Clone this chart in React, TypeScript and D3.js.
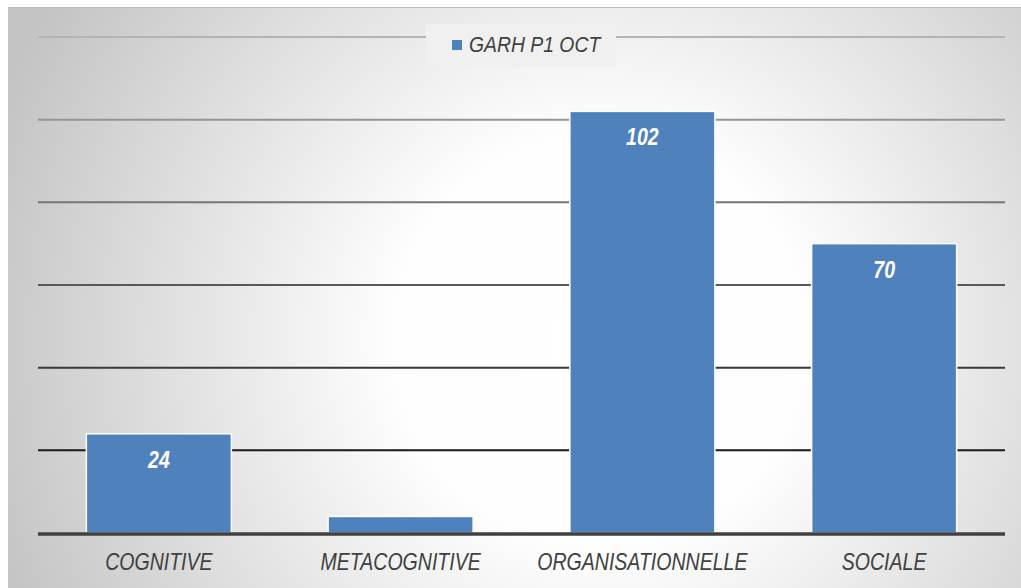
import React, { useRef, useEffect } from 'react';
import * as d3 from 'd3';

const categories = ['COGNITIVE', 'METACOGNITIVE', 'ORGANISATIONNELLE', 'SOCIALE'];
const values = [24, 4, 102, 70];
const valueLabels = ['24', '', '102', '70'];
const gridTicks = [0, 20, 40, 60, 80, 100, 120];
const seriesName = 'GARH P1 OCT';

const App = () => {
  const svgRef = useRef<SVGSVGElement>(null);

  useEffect(() => {
    const svg = d3.select(svgRef.current);
    svg.selectAll('*').remove();

    const width = 1021;
    const height = 588;
    const plot = { left: 38, right: 1005, top: 37, bottom: 533 };
    const font = '"Liberation Sans", Arial, sans-serif';
    const narrow = 0.85; // no narrow font installed, squeeze horizontally

    // background radial gradient
    const defs = svg.append('defs');
    const rg = defs
      .append('radialGradient')
      .attr('id', 'bg')
      .attr('gradientUnits', 'userSpaceOnUse')
      .attr('cx', 600)
      .attr('cy', 340)
      .attr('r', 640);
    rg.append('stop').attr('offset', 0).attr('stop-color', '#ffffff');
    rg.append('stop').attr('offset', 0.32).attr('stop-color', '#fefefe');
    rg.append('stop').attr('offset', 1).attr('stop-color', '#c4c4c4');

    svg
      .append('rect')
      .attr('x', 8)
      .attr('y', 7)
      .attr('width', width - 8)
      .attr('height', height - 7)
      .attr('fill', 'url(#bg)');
    svg
      .append('line')
      .attr('x1', 8)
      .attr('x2', width)
      .attr('y1', 7.5)
      .attr('y2', 7.5)
      .attr('stroke', '#b8b8b8')
      .attr('stroke-width', 1);

    const x = d3
      .scaleBand()
      .domain(categories)
      .range([plot.left, plot.right])
      .paddingInner(0.4)
      .paddingOuter(0.2);

    const y = d3.scaleLinear().domain([0, 120]).range([plot.bottom, plot.top]);

    // gridlines, fading from grey at top to near-black lower down
    const gridColor = d3.scaleLinear<string>().domain([120, 20]).range(['#b4b4b4', '#1a1a1a']).clamp(true);

    svg
      .append('g')
      .selectAll('line')
      .data(gridTicks.filter(d => d > 0))
      .enter()
      .append('line')
      .attr('x1', plot.left)
      .attr('x2', plot.right)
      .attr('y1', d => y(d))
      .attr('y2', d => y(d))
      .attr('stroke', d => gridColor(d))
      .attr('stroke-width', 2);

    const data = categories.map((c, i) => ({ cat: c, value: values[i], label: valueLabels[i] }));

    svg
      .append('g')
      .selectAll('rect')
      .data(data)
      .enter()
      .append('rect')
      .attr('x', d => x(d.cat)!)
      .attr('y', d => y(d.value))
      .attr('width', x.bandwidth())
      .attr('height', d => plot.bottom - y(d.value))
      .attr('fill', '#4f81bd')
      .attr('stroke', '#ffffff')
      .attr('stroke-width', 1.5);

    // baseline
    svg
      .append('line')
      .attr('x1', plot.left)
      .attr('x2', plot.right)
      .attr('y1', plot.bottom + 1)
      .attr('y2', plot.bottom + 1)
      .attr('stroke', '#404040')
      .attr('stroke-width', 3.5);

    // value labels
    svg
      .append('g')
      .selectAll('text')
      .data(data)
      .enter()
      .append('text')
      .attr('transform', d => `translate(${x(d.cat)! + x.bandwidth() / 2},${y(d.value) + 34}) scale(${narrow},1)`)
      .attr('text-anchor', 'middle')
      .attr('font-family', font)
      .attr('font-size', 23)
      .attr('font-style', 'italic')
      .attr('font-weight', 'bold')
      .attr('fill', '#ffffff')
      .text(d => d.label);

    // category labels
    svg
      .append('g')
      .selectAll('text')
      .data(categories)
      .enter()
      .append('text')
      .attr('transform', d => `translate(${x(d)! + x.bandwidth() / 2},570) scale(${narrow},1)`)
      .attr('text-anchor', 'middle')
      .attr('font-family', font)
      .attr('font-size', 23)
      .attr('font-style', 'italic')
      .attr('fill', '#404040')
      .text(d => d);

    // legend
    const legend = svg.append('g');
    legend
      .append('rect')
      .attr('x', 426)
      .attr('y', 24)
      .attr('width', 190)
      .attr('height', 43)
      .attr('fill', '#f0f0f0');
    legend
      .append('rect')
      .attr('x', 452)
      .attr('y', 40)
      .attr('width', 10)
      .attr('height', 10)
      .attr('fill', '#4f81bd');
    legend
      .append('text')
      .attr('transform', `translate(469,52) scale(0.88,1)`)
      .attr('font-family', font)
      .attr('font-size', 22)
      .attr('font-style', 'italic')
      .attr('fill', '#404040')
      .text(seriesName);
  }, []);

  return (
    <svg
      ref={svgRef}
      width={1021}
      height={588}
      style={{ position: 'absolute', left: 0, top: 0 }}
    />
  );
};

export default App;
